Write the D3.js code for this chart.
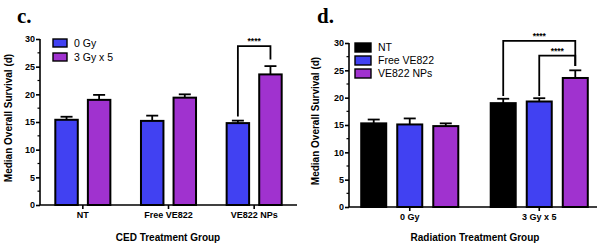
<!DOCTYPE html>
<html>
<head>
<script src="https://d3js.org/d3.v7.min.js"></script>
<style>
  body, html { margin: 0; padding: 0; background: #fff; }
  svg { display: block; font-family: "Liberation Sans", Arial, sans-serif; }
  .tick text { font-size: 9px; font-weight: bold; fill: #000; }
  .axisTitle { font-size: 10px; font-weight: bold; }
  .legend text { font-size: 10.5px; }
  .panel { font-family: "Liberation Serif", "Times New Roman", serif; font-size: 21px; font-weight: bold; }
  .stars { font-size: 8.5px; font-weight: bold; }
</style>
</head>
<body>
<div id="chart"></div>
<script>
// panel c: CED treatment groups
const cGroups = ["NT", "Free VE822", "VE822 NPs"];
const cSeries = ["0 Gy", "3 Gy x 5"];
const cMeans = [[15.4, 15.2, 14.8], [19.0, 19.4, 23.6]];
const cSem = [[0.55, 0.95, 0.45], [0.9, 0.6, 1.5]];

// panel d: radiation treatment groups
const dGroups = ["0 Gy", "3 Gy x 5"];
const dSeries = ["NT", "Free VE822", "VE822 NPs"];
const dMeans = [[15.3, 19.0], [15.1, 19.3], [14.8, 23.6]];
const dSem = [[0.7, 0.8], [1.1, 0.6], [0.5, 1.4]];

const yTicks = [0, 5, 10, 15, 20, 25, 30];
const yMinor = [2.5, 7.5, 12.5, 17.5, 22.5, 27.5];

const svg = d3.select("#chart").append("svg")
  .attr("width", 604).attr("height", 249);

function panel(opt) {
  const g = svg.append("g");
  const y = d3.scaleLinear().domain([0, 30]).range([opt.y0, opt.y1]);
  const x = d3.scaleBand().domain(opt.groups).range(opt.xRange);
  const xi = d3.scaleBand().domain(opt.series).range([0, x.bandwidth()])
    .paddingInner(opt.pi).paddingOuter(opt.po);

  // bars with upper error whiskers
  opt.series.forEach((s, si) => {
    opt.groups.forEach((grp, gi) => {
      const v = opt.means[si][gi], e = opt.sem[si][gi];
      const bx = x(grp) + xi(s), bw = xi.bandwidth(), cx = bx + bw / 2;
      g.append("line").attr("x1", cx).attr("x2", cx)
        .attr("y1", y(v)).attr("y2", y(v + e))
        .attr("stroke", "#000").attr("stroke-width", 1.8);
      g.append("line").attr("x1", cx - 6).attr("x2", cx + 6)
        .attr("y1", y(v + e)).attr("y2", y(v + e))
        .attr("stroke", "#000").attr("stroke-width", 1.8);
      g.append("rect").attr("x", bx).attr("y", y(v))
        .attr("width", bw).attr("height", y(0) - y(v))
        .attr("fill", opt.colors[si]).attr("stroke", "#000").attr("stroke-width", 2);
    });
  });

  // y axis
  const ya = g.append("g").attr("transform", `translate(${opt.axisX},0)`)
    .call(d3.axisLeft(y).tickValues(yTicks).tickSize(4).tickPadding(1));
  ya.select(".domain").attr("stroke-width", 1.6).attr("d", `M0,${y(0)}V${y(30)}`);
  ya.selectAll(".tick line").attr("stroke-width", 1.6);
  yMinor.forEach(m => {
    ya.append("line").attr("x1", -2.5).attr("x2", 0).attr("y1", y(m)).attr("y2", y(m))
      .attr("stroke", "#000").attr("stroke-width", 1.2);
  });

  // x axis
  g.append("line").attr("x1", opt.axisX).attr("x2", opt.axisEnd)
    .attr("y1", y(0)).attr("y2", y(0)).attr("stroke", "#000").attr("stroke-width", 1.6);
  const xa = g.append("g").attr("transform", `translate(0,${y(0)})`)
    .call(d3.axisBottom(x).tickSize(4).tickPadding(3));
  xa.select(".domain").remove();
  xa.selectAll(".tick line").attr("stroke-width", 1.6);

  // titles
  g.append("text").attr("class", "axisTitle").attr("text-anchor", "middle")
    .attr("x", opt.titleX).attr("y", 241).text(opt.title);
  g.append("text").attr("class", "axisTitle").attr("text-anchor", "middle")
    .attr("transform", `translate(${opt.yLabelX},${(y(0) + y(30)) / 2 - 4}) rotate(-90)`)
    .text("Median Overall Survival (d)");
  g.append("text").attr("class", "panel").attr("x", opt.labelX).attr("y", 23).text(opt.label);

  // legend
  const lg = g.append("g").attr("class", "legend");
  opt.series.forEach((s, si) => {
    const ly = opt.legY + si * opt.legStep;
    lg.append("rect").attr("x", opt.legX).attr("y", ly)
      .attr("width", opt.swW).attr("height", opt.swH)
      .attr("fill", opt.colors[si]).attr("stroke", "#000").attr("stroke-width", 1.4);
    lg.append("text").attr("x", opt.legX + opt.swW + 7).attr("y", ly + opt.swH / 2)
      .attr("dy", "0.36em").text(s);
  });

  // significance brackets
  const center = (s, grp) => x(grp) + xi(s) + xi.bandwidth() / 2;
  opt.brackets.forEach(b => {
    const x1 = center(b.from[0], b.from[1]), x2 = center(b.to[0], b.to[1]);
    g.append("path")
      .attr("d", `M${x1},${y(b.yLeft)}V${y(b.yTop)}H${x2}V${y(b.yRight)}`)
      .attr("fill", "none").attr("stroke", "#000").attr("stroke-width", 1.8);
    g.append("text").attr("class", "stars").attr("text-anchor", "middle")
      .attr("x", (x1 + x2) / 2).attr("y", y(b.yTop) - 2).text("****");
  });
  return g;
}

panel({
  groups: cGroups, series: cSeries, means: cMeans, sem: cSem,
  colors: ["#4141f2", "#a032cf"],
  y0: 205, y1: 39, xRange: [40, 297], pi: 0.31, po: 0.47,
  axisX: 40, axisEnd: 297, title: "CED Treatment Group", titleX: 168,
  yLabelX: 12, label: "c.", labelX: 17,
  legX: 53, legY: 39, legStep: 14, swW: 14, swH: 8,
  brackets: [{from: ["0 Gy", "VE822 NPs"], to: ["3 Gy x 5", "VE822 NPs"], yLeft: 16.0, yTop: 28.7, yRight: 26.3}]
});

panel({
  groups: dGroups, series: dSeries, means: dMeans, sem: dSem,
  colors: ["#000000", "#4141f2", "#a032cf"],
  y0: 207, y1: 43, xRange: [345, 604], pi: 0.306, po: 0.45,
  axisX: 349, axisEnd: 597, title: "Radiation Treatment Group", titleX: 475,
  yLabelX: 319, label: "d.", labelX: 317,
  legX: 355, legY: 43, legStep: 13, swW: 16, swH: 9,
  brackets: [
    {from: ["NT", "3 Gy x 5"], to: ["VE822 NPs", "3 Gy x 5"], yLeft: 20.3, yTop: 30.4, yRight: 25.8},
    {from: ["Free VE822", "3 Gy x 5"], to: ["VE822 NPs", "3 Gy x 5"], yLeft: 20.3, yTop: 27.7, yRight: 25.8}
  ]
});
</script>
</body>
</html>
